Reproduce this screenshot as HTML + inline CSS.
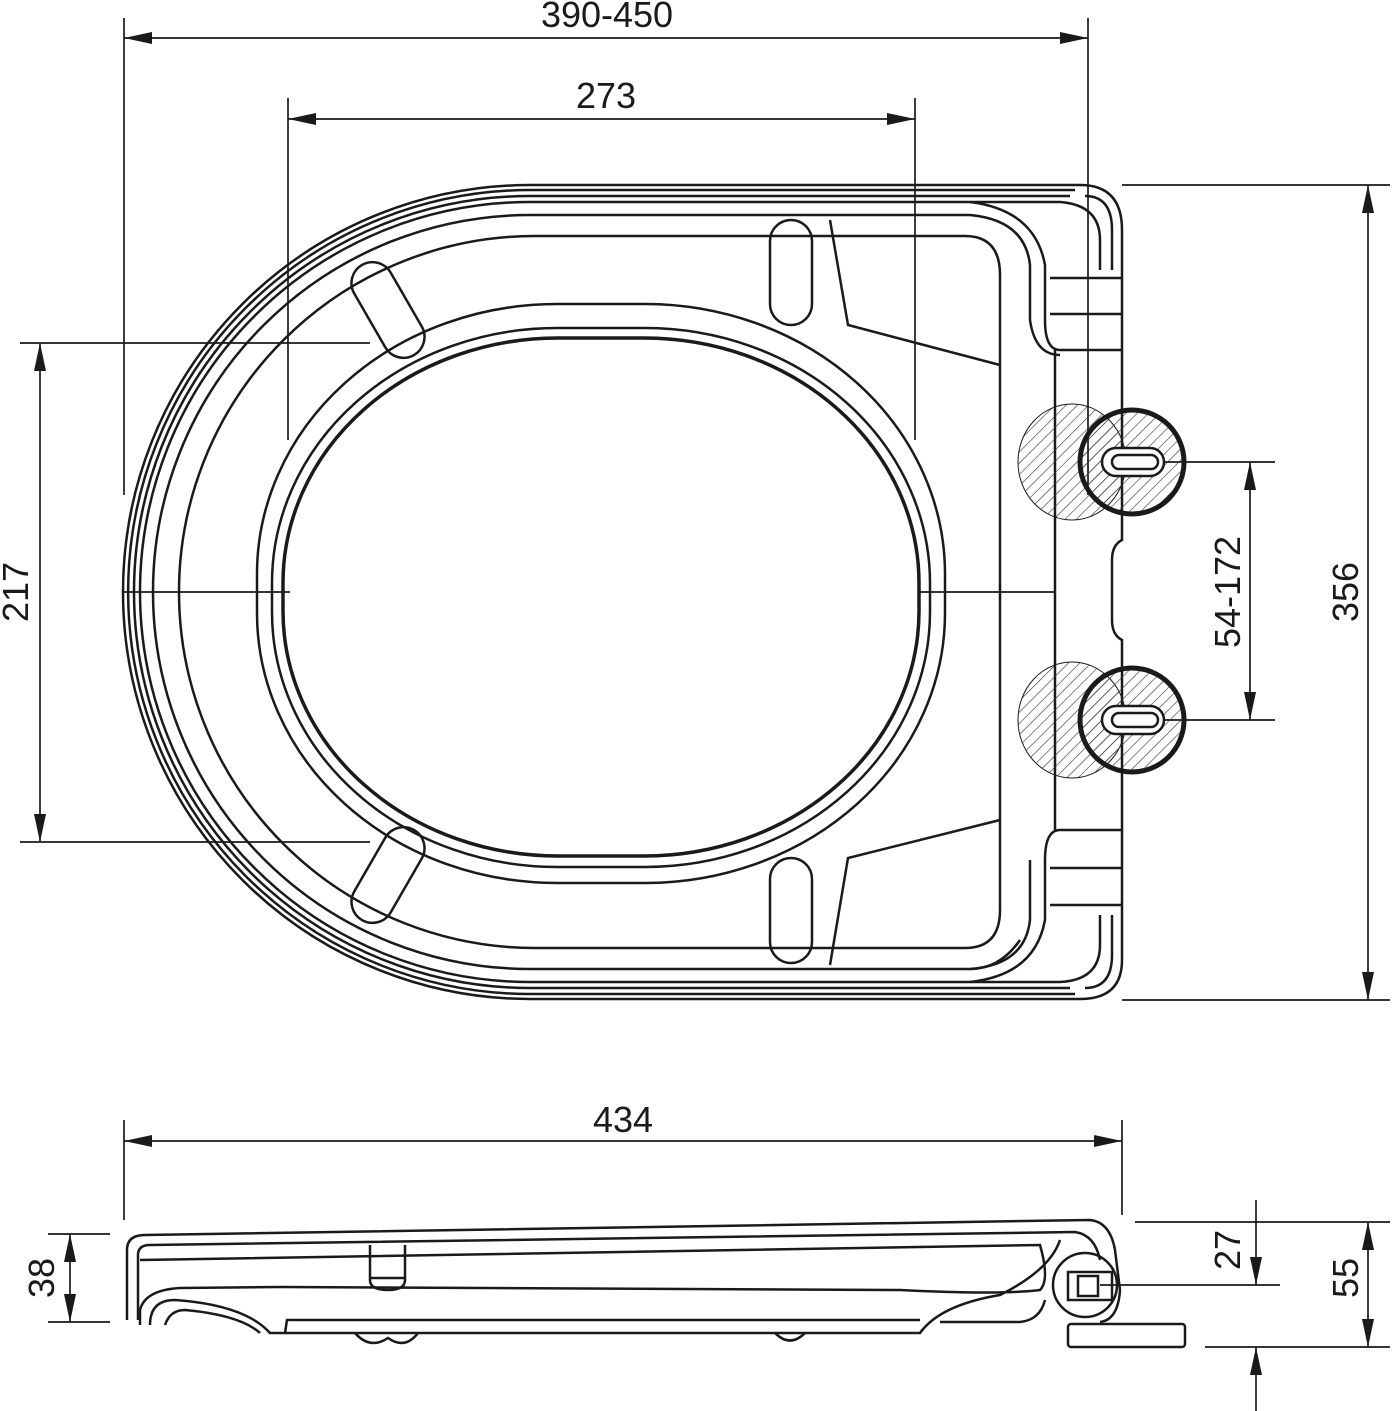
<!DOCTYPE html>
<html><head><meta charset="utf-8"><style>
html,body{margin:0;padding:0;background:#fff}
svg{display:block}
text{font-family:"Liberation Sans",sans-serif;font-size:36px;fill:#1a1a1a}
</style></head><body>
<svg width="1392" height="1411" viewBox="0 0 1392 1411" xmlns="http://www.w3.org/2000/svg">
<defs>
<marker id="a" viewBox="0 0 28 12" refX="28" refY="6" markerWidth="28" markerHeight="12" markerUnits="userSpaceOnUse" orient="auto-start-reverse"><path d="M0 0L28 6L0 12z" fill="#1a1a1a"/></marker>
<pattern id="h" width="8" height="8" patternUnits="userSpaceOnUse" patternTransform="rotate(45)"><line x1="0" y1="0" x2="0" y2="8" stroke="#333" stroke-width="1.2"/></pattern>
</defs>
<g fill="none" stroke="#1a1a1a" stroke-width="1.7">
<line x1="124" y1="18" x2="124" y2="495"/><line x1="1088" y1="18" x2="1088" y2="185"/>
<line x1="124" y1="38" x2="1088" y2="38" marker-start="url(#a)" marker-end="url(#a)"/>
<line x1="288" y1="98" x2="288" y2="440"/><line x1="915" y1="98" x2="915" y2="440"/>
<line x1="288" y1="119" x2="915" y2="119" marker-start="url(#a)" marker-end="url(#a)"/>
<line x1="20" y1="343" x2="370" y2="343"/><line x1="20" y1="842" x2="370" y2="842"/>
<line x1="40" y1="343" x2="40" y2="842" marker-start="url(#a)" marker-end="url(#a)"/>
<line x1="1122" y1="185" x2="1390" y2="185"/><line x1="1122" y1="1000" x2="1390" y2="1000"/>
<line x1="1368" y1="185" x2="1368" y2="1000" marker-start="url(#a)" marker-end="url(#a)"/>
<line x1="1132" y1="462" x2="1275" y2="462"/><line x1="1132" y1="720" x2="1275" y2="720"/>
<line x1="1250" y1="462" x2="1250" y2="720" marker-start="url(#a)" marker-end="url(#a)"/>
<line x1="124" y1="1120" x2="124" y2="1220"/><line x1="1122" y1="1120" x2="1122" y2="1215"/>
<line x1="124" y1="1141" x2="1122" y2="1141" marker-start="url(#a)" marker-end="url(#a)"/>
<line x1="48" y1="1234" x2="110" y2="1234"/><line x1="48" y1="1322" x2="110" y2="1322"/>
<line x1="70" y1="1234" x2="70" y2="1322" marker-start="url(#a)" marker-end="url(#a)"/>
<line x1="1135" y1="1222" x2="1390" y2="1222"/><line x1="1100" y1="1285" x2="1280" y2="1285"/><line x1="1205" y1="1347" x2="1390" y2="1347"/>
<line x1="1256" y1="1200" x2="1256" y2="1285" marker-end="url(#a)"/>
<line x1="1256" y1="1411" x2="1256" y2="1347" marker-end="url(#a)"/>
<line x1="1368" y1="1222" x2="1368" y2="1347" marker-start="url(#a)" marker-end="url(#a)"/>
<line x1="124" y1="592" x2="290" y2="592"/><line x1="918" y1="592" x2="1055" y2="592"/>
<line x1="1088" y1="185" x2="1088" y2="495"/>
</g>
<g fill="none" stroke="#1a1a1a" stroke-width="2.5">
<path d="M1080 185H530A407 407 0 0 0 530 999H1080Q1122 999 1122 960"/>
<path d="M1075 190H530A402 402 0 0 0 530 994H1075"/>
<path d="M1070 196H530A396 396 0 0 0 530 988H1070"/>
<path d="M1060 202H530A390 390 0 0 0 530 982H1060"/>
<path d="M970 215H530A377 377 0 0 0 530 969H970Q1000 969 1020 940"/>
<path d="M965 236H535A356 356 0 0 0 535 948H965Q1000 948 1000 910V275Q1000 236 965 236"/>
<path d="M1080 185Q1122 185 1122 230V350M1085 196Q1112 196 1112 230V270M1060 202Q1100 205 1100 240V270"/>
<path d="M970 202Q1035 210 1045 265V320Q1045 350 1060 350H1122M970 215Q1025 220 1030 265V320Q1035 355 1060 355"/>
<path d="M1050 278H1122M1050 314H1122M1055 350V830M1122 350V540Q1112 545 1112 560V620Q1112 635 1122 640V830"/>
<path d="M1122 960V830H1060Q1045 830 1045 860V920Q1035 975 970 982M1030 860V920Q1025 965 970 969M1050 868H1122M1050 905H1122M1085 988Q1112 988 1112 955V915M1060 982Q1100 980 1100 945V915"/>
<rect x="257" y="304" width="688" height="579" rx="300" ry="270"/>
<rect x="272" y="328" width="658" height="539" rx="285" ry="255"/>
<rect x="283" y="338" width="636" height="518" rx="275" ry="245" stroke-width="3.5"/>
<rect x="770" y="220" width="42" height="105" rx="21"/>
<rect x="770" y="858" width="42" height="105" rx="21"/>
<rect x="367" y="258" width="42" height="104" rx="21" transform="rotate(-30 388 310)"/>
<rect x="367" y="823" width="42" height="104" rx="21" transform="rotate(30 388 875)"/>
<path d="M830 220L848 325L1000 365M830 965L848 858L1000 820"/>
<ellipse cx="1072" cy="462" rx="54" ry="58" fill="url(#h)" stroke-width="1"/>
<ellipse cx="1072" cy="720" rx="54" ry="58" fill="url(#h)" stroke-width="1"/>
<circle cx="1132" cy="462" r="52" fill="url(#h)" stroke-width="5"/>
<circle cx="1132" cy="720" r="52" fill="url(#h)" stroke-width="5"/>
<rect x="1102" y="448" width="62" height="28" rx="14" fill="#fff"/><rect x="1112" y="455" width="46" height="14" rx="7"/>
<rect x="1102" y="706" width="62" height="28" rx="14" fill="#fff"/><rect x="1112" y="713" width="46" height="14" rx="7"/>
<path d="M127 1320V1250Q127 1235 145 1235L1090 1220Q1110 1222 1115 1250L1120 1290Q1118 1320 1100 1322"/>
<path d="M138 1320V1255Q138 1245 150 1245L1075 1232Q1095 1235 1100 1260"/>
<path d="M140 1260L1040 1245Q1050 1280 1040 1290Q1000 1295 900 1290L280 1287L180 1288Q145 1290 140 1310V1325"/>
<path d="M150 1325Q150 1300 175 1300Q245 1305 270 1333H920Q940 1305 1000 1295Q1050 1270 1060 1240"/>
<path d="M165 1325Q170 1310 185 1310Q240 1315 260 1333M285 1333L287 1320L920 1320"/>
<path d="M370 1245V1280Q370 1290 388 1290Q405 1290 405 1280V1245M370 1278H405"/>
<path d="M355 1333Q370 1350 388 1338Q405 1350 418 1333M775 1333Q790 1348 805 1333"/>
<circle cx="1085" cy="1285" r="32"/>
<rect x="1068" y="1272" width="44" height="28"/><rect x="1078" y="1276" width="20" height="20"/>
<rect x="1068" y="1324" width="117" height="23" rx="3"/>
<path d="M1045 1300Q1040 1320 1020 1322H940"/>
</g>
<text x="607" y="27" text-anchor="middle">390-450</text>
<text x="606" y="108" text-anchor="middle">273</text>
<text x="623" y="1132" text-anchor="middle">434</text>
<text transform="translate(28 592) rotate(-90)" text-anchor="middle">217</text>
<text transform="translate(1358 592) rotate(-90)" text-anchor="middle">356</text>
<text transform="translate(1240 592) rotate(-90)" text-anchor="middle">54-172</text>
<text transform="translate(54 1278) rotate(-90)" text-anchor="middle">38</text>
<text transform="translate(1240 1250) rotate(-90)" text-anchor="middle">27</text>
<text transform="translate(1358 1278) rotate(-90)" text-anchor="middle">55</text>
</svg>
</body></html>
